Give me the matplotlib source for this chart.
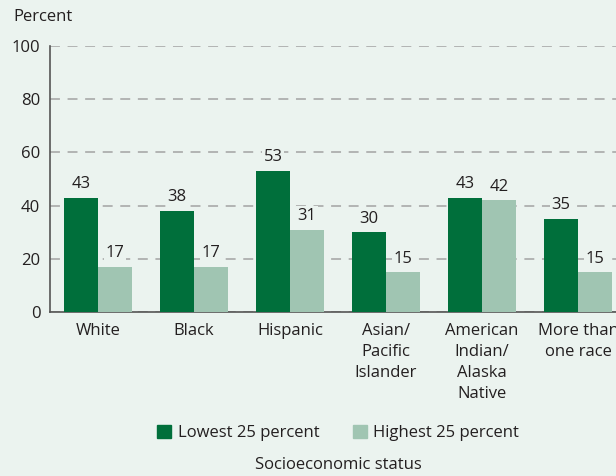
import matplotlib
matplotlib.use("Agg")
import matplotlib.pyplot as plt
import numpy as np
from matplotlib.patches import Patch

categories = ["White", "Black", "Hispanic", "Asian/\nPacific\nIslander",
              "American\nIndian/\nAlaska\nNative", "More than\none race"]
lowest = [43, 38, 53, 30, 43, 35]
highest = [17, 17, 31, 15, 42, 15]
yticks = [0, 20, 40, 60, 80, 100]

BG = "#ebf3ef"
DARK = "#006f3b"
LIGHT = "#a0c5b2"
TXT = "#231f20"
FS = 12

plt.rcParams['font.family'] = ['Open Sans', 'DejaVu Sans']

W, H = 616, 476
fig = plt.figure(figsize=(W/100, H/100), dpi=100, facecolor=BG)
ax = fig.add_axes([50/W, 164/H, 576/W, 266/H])
ax.set_facecolor(BG)

x = np.arange(len(categories))
bw = 34/96
b1 = ax.bar(x - bw/2, lowest, bw, color=DARK, zorder=3)
b2 = ax.bar(x + bw/2, highest, bw, color=LIGHT, zorder=3)

for bars, vals in ((b1, lowest), (b2, highest)):
    for r, v in zip(bars, vals):
        ax.annotate(str(v), (r.get_x() + r.get_width()/2, v), xytext=(0, 4),
                    textcoords="offset points", ha="center", va="bottom",
                    fontsize=FS, color=TXT, zorder=4,
                    bbox=dict(boxstyle="square,pad=0.1", fc=BG, ec="none"))

ax.set_xlim(-0.5, 5.5)
ax.set_ylim(0, 100)
ax.set_yticks(yticks)
ax.yaxis.grid(True, color="#a3a3a3", linestyle=(0, (6.5, 5)), linewidth=1.1, zorder=1)
ax.set_axisbelow(True)
for s in ("top", "right"):
    ax.spines[s].set_visible(False)
for s in ("left", "bottom"):
    ax.spines[s].set_color("#555555")
    ax.spines[s].set_linewidth(1.2)
ax.tick_params(axis="y", length=0, pad=7, labelsize=FS, labelcolor=TXT)
ax.tick_params(axis="x", length=0, pad=8, labelsize=FS, labelcolor=TXT)
ax.set_xticks(x)
ax.set_xticklabels(categories, linespacing=1.4)

fig.text(13/W, 1 - 17/H, "Percent", fontsize=FS, color=TXT, va="center", ha="left")

handles = [Patch(color=DARK, label="Lowest 25 percent"),
           Patch(color=LIGHT, label="Highest 25 percent")]
fig.legend(handles=handles, loc="center", bbox_to_anchor=(338/W, 1 - 433/H),
           ncol=2, frameon=False, fontsize=FS, handlelength=0.85, handleheight=0.85,
           handletextpad=0.4, columnspacing=2.0, labelcolor=TXT)
fig.text(338/W, 1 - 465/H, "Socioeconomic status", fontsize=FS, color=TXT,
         ha="center", va="center")

fig.savefig("out.png", dpi=100, facecolor=BG)
